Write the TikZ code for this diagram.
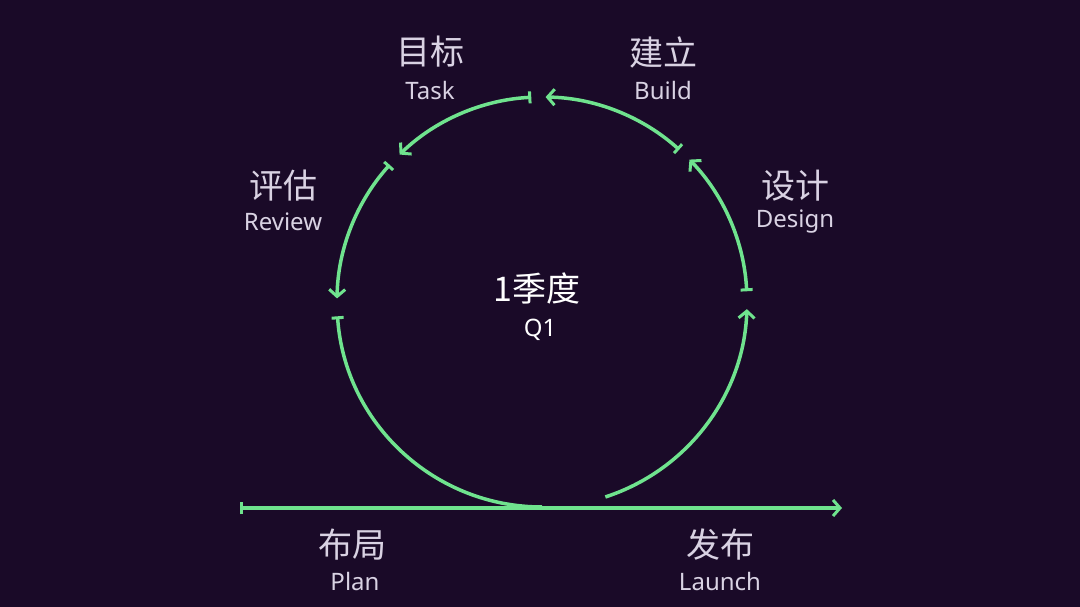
\documentclass[tikz,border=0pt]{standalone}
\usepackage{fontspec}
\setmainfont{Noto Sans}
\newfontfamily\cjk{Noto Sans CJK SC}
\usetikzlibrary{arrows.meta}
\definecolor{bg}{HTML}{1A0A28}
\definecolor{gr}{HTML}{6FE38E}
\definecolor{tx}{HTML}{D9D2E3}
\begin{document}
\begin{tikzpicture}[x=1pt,y=-1pt,
  seg/.style={draw=gr,line width=3.5pt,{Bar[width=12pt,line width=3pt]}-{Straight Barb[length=7pt,width=16pt,line width=3pt]}},
  zh/.style={text=tx,font=\cjk\fontsize{34}{36}\selectfont},
  en/.style={text=tx,font=\fontsize{24}{26}\selectfont}]
\fill[bg] (0,0) rectangle (1080,607);
\useasboundingbox (0,0) rectangle (1080,607);
\coordinate (c) at (542,302);
\coordinate (L0) at (240,508);
\coordinate (L1) at (842,508);
\draw[seg] (L0) -- (L1);
\draw[draw=gr,line width=3.5pt,-{Straight Barb[length=7pt,width=16pt,line width=3pt]}] ([shift={(-72:205pt)}]c) arc[start angle=-72,end angle=-2,radius=205pt];
\draw[seg] ([shift={(3:205pt)}]c) arc[start angle=3,end angle=44,radius=205pt];
\draw[seg] ([shift={(48:205pt)}]c) arc[start angle=48,end angle=89,radius=205pt];
\draw[seg] ([shift={(93:205pt)}]c) arc[start angle=93,end angle=134,radius=205pt];
\draw[seg] ([shift={(138:205pt)}]c) arc[start angle=138,end angle=179,radius=205pt];
\draw[draw=gr,line width=3.5pt,{Bar[width=12pt,line width=3pt]}-] ([shift={(184:205pt)}]c) arc[start angle=184,end angle=270,radius=205pt];
\node[zh] (t1) at (430,52) {目标};
\node[en] (t2) at (430,91) {Task};
\node[zh] (b1) at (663,52) {建立};
\node[en] (b2) at (663,91) {Build};
\node[zh] (r1) at (283,186) {评估};
\node[en] (r2) at (283,222) {Review};
\node[zh] (d1) at (795,186) {设计};
\node[en] (d2) at (795,222) {Design};
\node[text=white,font=\cjk\fontsize{34}{36}\selectfont] (q1) at (537,288) {1季度};
\node[text=white,font=\fontsize{24}{26}\selectfont] (q2) at (540,330) {Q1};
\node[zh] (p1) at (352,545) {布局};
\node[en] (p2) at (355,581) {Plan};
\node[zh] (l1) at (720,545) {发布};
\node[en] (l2) at (720,581) {Launch};
\end{tikzpicture}
\end{document}
